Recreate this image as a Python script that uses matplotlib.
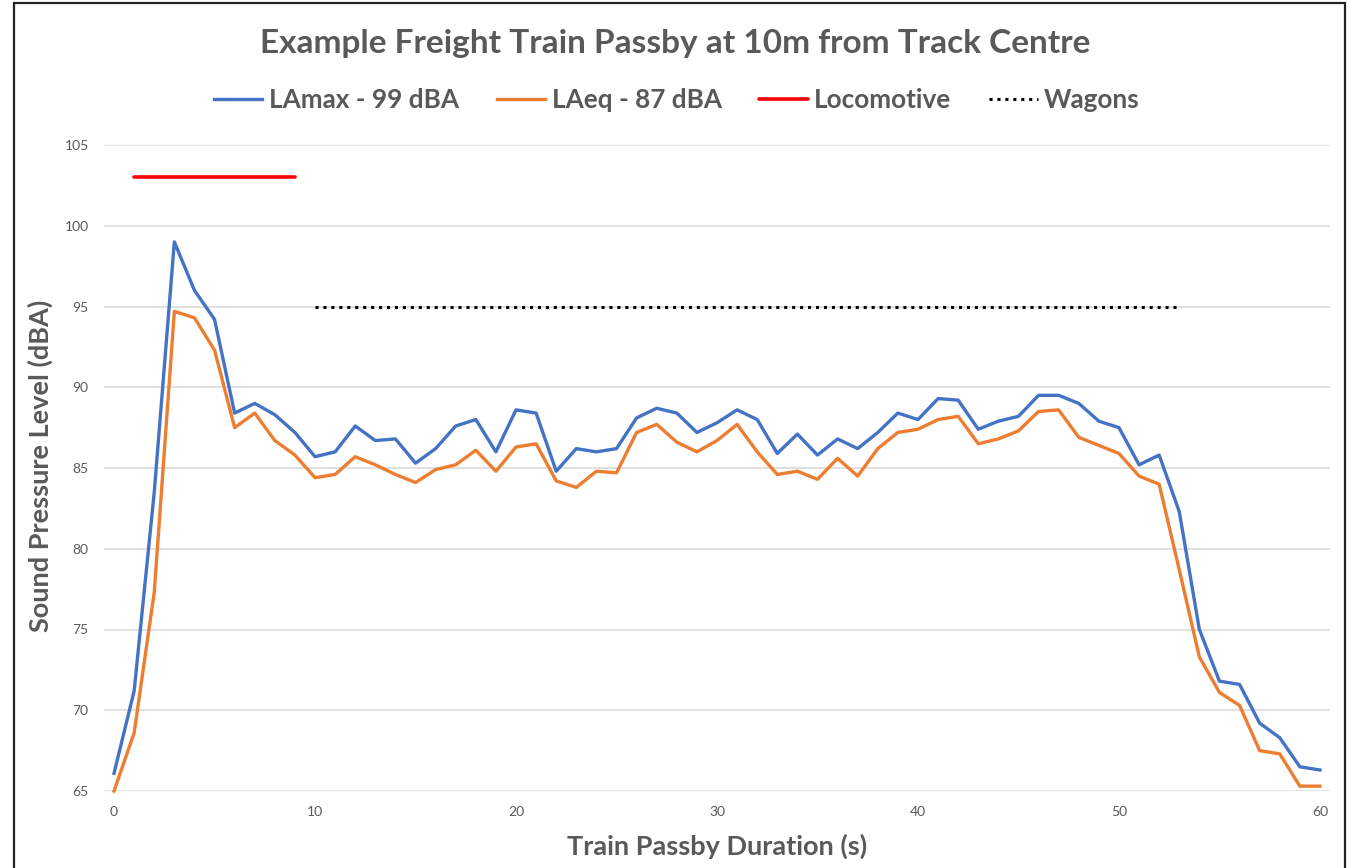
import matplotlib
matplotlib.use("Agg")
import matplotlib.pyplot as plt
from matplotlib.patches import Rectangle

# ---- data ----
seconds = list(range(0, 61))
lamax = [66.1, 71.2, 83.5, 99.0, 96.0, 94.2, 88.4, 89.0, 88.3, 87.2,
         85.7, 86.0, 87.6, 86.7, 86.8, 85.3, 86.2, 87.6, 88.0, 86.0,
         88.6, 88.4, 84.8, 86.2, 86.0, 86.2, 88.1, 88.7, 88.4, 87.2,
         87.8, 88.6, 88.0, 85.9, 87.1, 85.8, 86.8, 86.2, 87.2, 88.4,
         88.0, 89.3, 89.2, 87.4, 87.9, 88.2, 89.5, 89.5, 89.0, 87.9,
         87.5, 85.2, 85.8, 82.3, 75.0, 71.8, 71.6, 69.2, 68.3, 66.5,
         66.3]
laeq = [65.0, 68.6, 77.3, 94.7, 94.3, 92.3, 87.5, 88.4, 86.7, 85.8,
        84.4, 84.6, 85.7, 85.2, 84.6, 84.1, 84.9, 85.2, 86.1, 84.8,
        86.3, 86.5, 84.2, 83.8, 84.8, 84.7, 87.2, 87.7, 86.6, 86.0,
        86.7, 87.7, 86.0, 84.6, 84.8, 84.3, 85.6, 84.5, 86.2, 87.2,
        87.4, 88.0, 88.2, 86.5, 86.8, 87.3, 88.5, 88.6, 86.9, 86.4,
        85.9, 84.5, 84.0, 78.7, 73.3, 71.1, 70.3, 67.5, 67.3, 65.3,
        65.3]
loco_x = [1, 9]
loco_y = [103, 103]
wagon_x = [10, 53]
wagon_y = [95, 95]
series_labels = ["LAmax - 99 dBA", "LAeq - 87 dBA", "Locomotive", "Wagons"]
x_ticks = [0, 10, 20, 30, 40, 50, 60]
y_ticks = [65, 70, 75, 80, 85, 90, 95, 100, 105]
title = "Example Freight Train Passby at 10m from Track Centre"
xlabel = "Train Passby Duration (s)"
ylabel = "Sound Pressure Level (dBA)"

plt.rcParams['font.family'] = ['Lato', 'DejaVu Sans']
gray = "#595959"

W, H = 1350, 868
fig = plt.figure(figsize=(W / 100, H / 100), dpi=100)

# figure border
fig.patches.append(Rectangle((14 / W, -0.05), (1345 - 14) / W, (H - 3) / H + 0.05,
                             transform=fig.transFigure, fill=False,
                             edgecolor="#222222", linewidth=1.6))

ax = fig.add_axes([104 / W, (H - 791) / H, (1330 - 104) / W, (791 - 145) / H])
ax.set_xlim(-0.5, 60.5)
ax.set_ylim(65, 105)

l1, = ax.plot(seconds, lamax, color="#4472C4", linewidth=2.4, clip_on=False,
              solid_joinstyle='round', zorder=4)
l2, = ax.plot(seconds, laeq, color="#ED7D31", linewidth=2.4, clip_on=False,
              solid_joinstyle='round', zorder=3)
l3, = ax.plot(loco_x, loco_y, color="#FF0000", linewidth=2.6,
              solid_capstyle='round', zorder=3)
l4, = ax.plot(wagon_x, wagon_y, color="black", linewidth=2.2,
              linestyle=(0, (1.0, 1.6)), zorder=3)

ax.set_xticks(x_ticks)
ax.set_yticks(y_ticks)
ax.grid(axis='y', color="#D9D9D9", linewidth=1.1)
ax.set_axisbelow(True)
for s in ax.spines.values():
    s.set_visible(False)
ax.tick_params(axis='both', length=0, labelcolor=gray, labelsize=10)
ax.tick_params(axis='y', pad=11)
ax.tick_params(axis='x', pad=11)

fig.text(0.5, 1 - 44 / H, title, ha='center', va='center', fontsize=24,
         fontweight='bold', color=gray)
fig.text(717 / W, 1 - 846 / H, xlabel, ha='center', va='center', fontsize=19.5,
         fontweight='bold', color=gray)
fig.text(40 / W, 1 - 466 / H, ylabel, ha='center', va='center', fontsize=19.5,
         fontweight='bold', color=gray, rotation=90)

leg = fig.legend([l1, l2, l3, l4], series_labels, loc='center',
                 bbox_to_anchor=(677 / W, 1 - 100 / H), ncol=4, frameon=False,
                 fontsize=18.8, handlelength=1.85, handletextpad=0.25,
                 columnspacing=1.45)
for t in leg.get_texts():
    t.set_color(gray)
    t.set_fontweight('bold')

fig.savefig("out.png", dpi=100, facecolor="white")
